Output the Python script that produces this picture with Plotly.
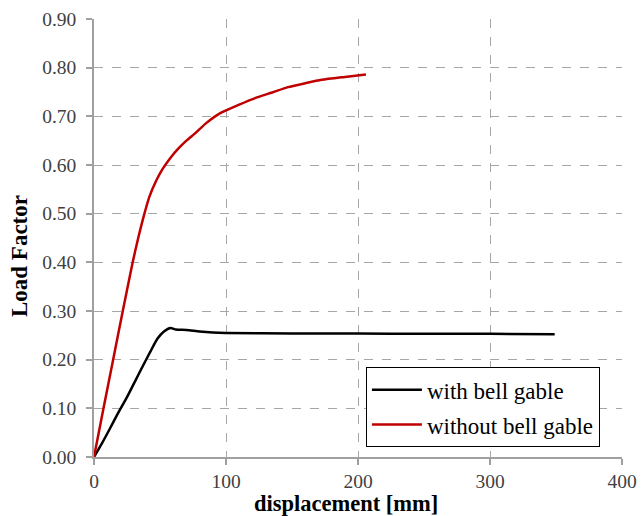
import plotly.graph_objects as go

# with bell gable
black_x = [0, 6, 12, 18, 25, 31, 37, 43, 48, 53, 58, 62, 70, 80, 90, 100, 150, 200, 250, 300, 349]
black_y = [0, 0.028, 0.058, 0.089, 0.123, 0.155, 0.187, 0.218, 0.243, 0.258, 0.265, 0.262, 0.261,
           0.258, 0.256, 0.255, 0.254, 0.254, 0.253, 0.253, 0.252]

# without bell gable
red_x = [0, 7.2, 14.5, 21.8, 29.3, 33.5, 37.7, 42, 47, 52, 58, 64, 70, 77, 85, 96, 110, 121.6,
         135, 147, 160, 172.5, 190, 206]
red_y = [0, 0.1, 0.2, 0.3, 0.4, 0.45, 0.495, 0.535, 0.567, 0.592, 0.615, 0.634, 0.65, 0.666,
         0.686, 0.707, 0.724, 0.737, 0.749, 0.76, 0.768, 0.775, 0.781, 0.786]

x_ticks = [0, 100, 200, 300, 400]
y_ticks = [0.0, 0.1, 0.2, 0.3, 0.4, 0.5, 0.6, 0.7, 0.8, 0.9]

FONT = "Liberation Serif"

fig = go.Figure()
fig.add_trace(go.Scatter(x=black_x, y=black_y, mode="lines", name="with bell gable",
                         line=dict(color="black", width=2.5, shape="spline", smoothing=0.6),
                         legendgroup="a"))
fig.add_trace(go.Scatter(x=red_x, y=red_y, mode="lines", name="without bell gable",
                         line=dict(color="#c00000", width=2.5, shape="spline", smoothing=0.6),
                         legendgroup="b"))

axis_common = dict(
    showline=True, linecolor="#a0a0a0", linewidth=1.5,
    ticks="outside", ticklen=6, tickcolor="#a0a0a0", tickwidth=1.5,
    showgrid=True, gridcolor="#a6a6a6", griddash="dash", gridwidth=1,
    zeroline=False, automargin=False,
    tickfont=dict(family=FONT, size=19.5, color="#404040"),
)

fig.update_layout(
    width=641, height=516,
    margin=dict(l=94, r=19, t=19, b=59),
    paper_bgcolor="white", plot_bgcolor="white",
    font=dict(family=FONT, size=20, color="#404040"),
    showlegend=True,
    legend=dict(x=0.515, y=0.205, xanchor="left", yanchor="top",
                bordercolor="black", borderwidth=1, bgcolor="white",
                font=dict(family=FONT, size=23, color="black"),
                itemwidth=50, tracegroupgap=2),
    xaxis=dict(range=[0, 400], tickvals=x_ticks, ticktext=[str(v) for v in x_ticks],
               ticklabelstandoff=0, **axis_common),
    yaxis=dict(range=[0, 0.9], tickvals=y_ticks, ticktext=[f"{v:.2f}" for v in y_ticks],
               ticklabelstandoff=6, **axis_common),
    annotations=[
        dict(text="<b>displacement [mm]</b>", xref="paper", yref="paper", x=0.477, y=-0.107,
             xanchor="center", yanchor="middle", showarrow=False,
             font=dict(family=FONT, size=22.5, color="black")),
        dict(text="<b>Load Factor</b>", xref="paper", yref="paper", x=-0.14, y=0.459,
             xanchor="center", yanchor="middle", showarrow=False, textangle=-90,
             font=dict(family=FONT, size=23, color="black")),
    ],
)

fig.write_html("out.html")
